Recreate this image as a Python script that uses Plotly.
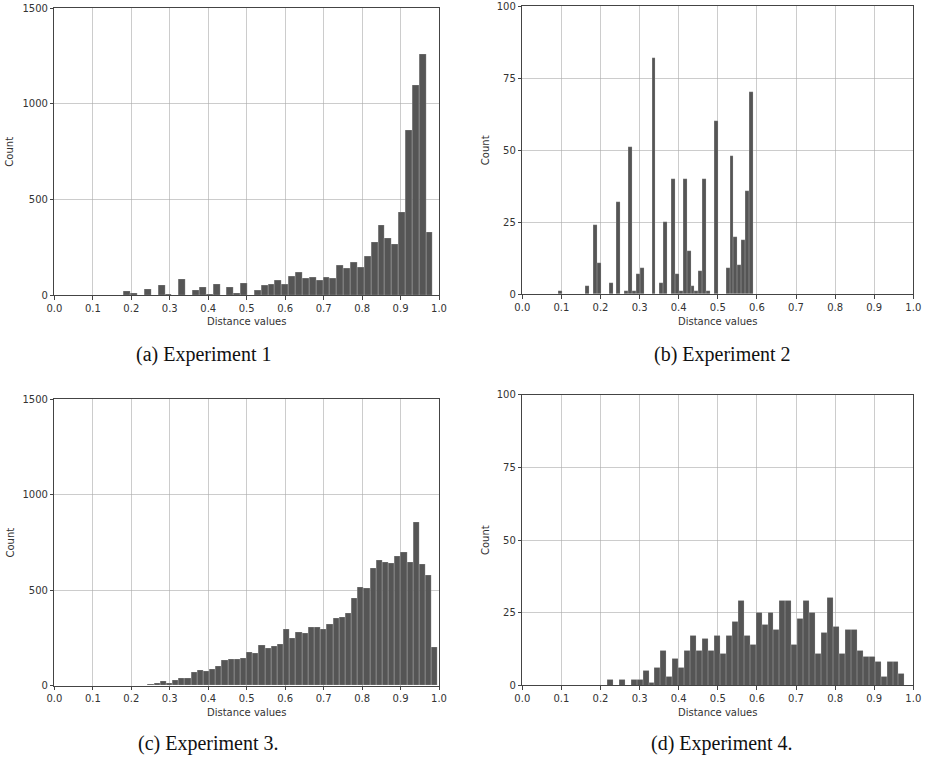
import numpy as np
import plotly.graph_objects as go

# Histogram counts of the distance values, 50 equal-width bins per experiment
EXP1_RANGE = (0.0910, 0.9841)
EXP1_COUNTS = [0, 0, 0, 0, 0,
               21, 8, 0, 30, 0, 50, 5, 0, 80, 0, 23, 39, 3, 54, 0,
               38, 8, 61, 0, 23, 52, 58, 75, 56, 99, 119, 87, 94, 75, 91,
               87, 155, 138, 173, 145, 204, 274, 365, 295, 263, 431, 862, 1097, 1261, 330]

EXP2_RANGE = (0.0919, 0.5906)
EXP2_COUNTS = [1, 0, 0, 0, 0, 0, 0, 3, 0, 24,
               11, 0, 0, 4, 0, 32, 0, 1, 51, 1,
               7, 9, 0, 0, 82, 0, 4, 25, 0, 40,
               7, 1, 40, 15, 3, 1, 8, 40, 1, 0,
               60, 0, 0, 9, 48, 20, 10, 19, 36, 70]

EXP3_RANGE = (0.1945, 0.9970)
EXP3_COUNTS = [1, 1, 2, 5, 11, 21, 15, 30, 39, 39,
               72, 80, 78, 86, 104, 131, 138, 136, 143, 173,
               171, 210, 196, 206, 215, 295, 246, 278, 272, 306,
               306, 295, 320, 351, 358, 377, 456, 517, 508, 613,
               658, 646, 641, 676, 698, 648, 856, 636, 578, 199]

EXP4_RANGE = (0.2170, 0.9780)
EXP4_COUNTS = [2, 0, 2, 0, 2, 2, 5, 1, 6, 12,
               3, 9, 6, 12, 17, 12, 16, 12, 17, 11,
               17, 22, 29, 17, 14, 25, 21, 25, 19, 29,
               29, 14, 23, 29, 25, 11, 18, 30, 20, 11,
               19, 19, 12, 10, 10, 8, 3, 8, 8, 4]

X_TICKS = [0.0, 0.1, 0.2, 0.3, 0.4, 0.5, 0.6, 0.7, 0.8, 0.9, 1.0]
Y_TICKS_LARGE = [0, 500, 1000, 1500]
Y_TICKS_SMALL = [0, 25, 50, 75, 100]

CAPTIONS = ["(a) Experiment 1", "(b) Experiment 2", "(c) Experiment 3.", "(d) Experiment 4."]
X_TITLE = "Distance values"
Y_TITLE = "Count"

W, H = 925, 772
BAR_COLOR = "#555555"
TEXT_COLOR = "#333333"
TICK_FONT = dict(family="DejaVu Sans", size=10, color=TEXT_COLOR)

# panel plot areas in pixels: (left, right, top, bottom)
panels = [
    dict(rng=EXP1_RANGE, counts=EXP1_COUNTS, yt=Y_TICKS_LARGE, box=(54.4, 439.0, 8.3, 295.0),
         cap=(204, 354), ylab_x=10, xlab_y=322),
    dict(rng=EXP2_RANGE, counts=EXP2_COUNTS, yt=Y_TICKS_SMALL, box=(522.3, 913.3, 6.0, 294.3),
         cap=(722, 354), ylab_x=485, xlab_y=322),
    dict(rng=EXP3_RANGE, counts=EXP3_COUNTS, yt=Y_TICKS_LARGE, box=(54.4, 439.0, 399.3, 685.7),
         cap=(208, 743), ylab_x=10, xlab_y=712),
    dict(rng=EXP4_RANGE, counts=EXP4_COUNTS, yt=Y_TICKS_SMALL, box=(522.3, 913.3, 394.7, 685.3),
         cap=(722, 743), ylab_x=485, xlab_y=712),
]

fig = go.Figure()
annotations = []
layout_axes = {}

for i, p in enumerate(panels, start=1):
    counts = np.array(p["counts"], dtype=float)
    edges = np.linspace(p["rng"][0], p["rng"][1], len(counts) + 1)
    centers = 0.5 * (edges[:-1] + edges[1:])
    widths = np.diff(edges)
    xa = "x" if i == 1 else f"x{i}"
    ya = "y" if i == 1 else f"y{i}"
    fig.add_trace(go.Bar(
        x=centers, y=counts, width=widths,
        marker=dict(color=BAR_COLOR, line=dict(color="rgba(255,255,255,0.35)", width=0.5)),
        xaxis=xa, yaxis=ya, showlegend=False, hoverinfo="x+y",
    ))

    left, right, top, bottom = p["box"]
    axis_common = dict(
        showline=True, linecolor="#444444", linewidth=1, mirror=True,
        showgrid=True, gridcolor="rgba(170,170,170,0.6)", gridwidth=1,
        ticks="outside", ticklen=3.5, tickwidth=0.8, tickcolor="#444444",
        tickfont=TICK_FONT, zeroline=False, layer="above traces",
        fixedrange=True, automargin=False, ticklabeloverflow="allow",
    )
    layout_axes[f"xaxis{i}" if i > 1 else "xaxis"] = dict(
        axis_common, domain=[left / W, right / W], range=[0, 1],
        tickvals=X_TICKS, ticktext=[f"{v:.1f}" for v in X_TICKS],
        anchor=ya,
    )
    layout_axes[f"yaxis{i}" if i > 1 else "yaxis"] = dict(
        axis_common, domain=[1 - bottom / H, 1 - top / H], range=[0, p["yt"][-1]],
        tickvals=p["yt"], ticktext=[str(v) for v in p["yt"]],
        anchor=xa,
    )

    annotations.append(dict(
        text=Y_TITLE, x=p["ylab_x"] / W, y=1 - ((top + bottom) / 2) / H,
        xref="paper", yref="paper", showarrow=False, textangle=-90,
        font=dict(family="DejaVu Sans", size=10, color=TEXT_COLOR),
        xanchor="center", yanchor="middle",
    ))
    annotations.append(dict(
        text=X_TITLE, x=((left + right) / 2) / W, y=1 - p["xlab_y"] / H,
        xref="paper", yref="paper", showarrow=False,
        font=dict(family="DejaVu Sans", size=10, color=TEXT_COLOR),
        xanchor="center", yanchor="middle",
    ))
    annotations.append(dict(
        text=CAPTIONS[i - 1], x=p["cap"][0] / W, y=1 - p["cap"][1] / H,
        xref="paper", yref="paper", showarrow=False,
        font=dict(family="Liberation Serif", size=20, color="#111111"),
        xanchor="center", yanchor="middle",
    ))

fig.update_layout(
    width=W, height=H, margin=dict(l=0, r=0, t=0, b=0, autoexpand=False),
    paper_bgcolor="white", plot_bgcolor="white",
    bargap=0, annotations=annotations, **layout_axes,
)

fig.write_html("out.html")
